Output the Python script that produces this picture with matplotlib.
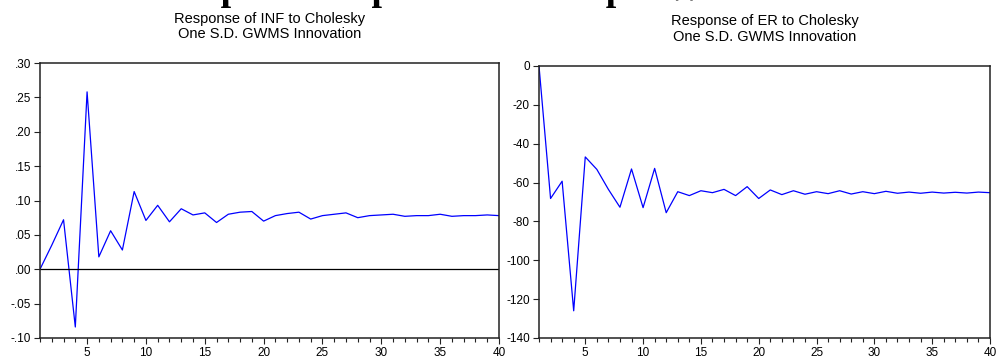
import numpy as np
import matplotlib.pyplot as plt
from matplotlib.ticker import FuncFormatter, MultipleLocator

# periode 1..40
periode = np.arange(1, 41)

# respon INF terhadap guncangan GWMS
inf = [0.000, 0.035, 0.072, -0.084, 0.258, 0.018, 0.056, 0.028, 0.113, 0.071,
       0.093, 0.069, 0.088, 0.079, 0.082, 0.068, 0.080, 0.083, 0.084, 0.070,
       0.078, 0.081, 0.083, 0.073, 0.078, 0.080, 0.082, 0.075, 0.078, 0.079,
       0.080, 0.077, 0.078, 0.078, 0.080, 0.077, 0.078, 0.078, 0.079, 0.078]

# respon ER terhadap guncangan GWMS
er = [0.0, -68.2, -59.3, -126.0, -46.8, -53.2, -63.5, -72.7, -53.0, -72.9,
      -52.7, -75.5, -64.7, -66.7, -64.2, -65.2, -63.5, -66.7, -62.1, -68.2,
      -63.8, -66.2, -64.2, -66.0, -64.7, -65.7, -64.2, -65.9, -64.7, -65.7,
      -64.5, -65.5, -64.9, -65.5, -64.9, -65.4, -65.0, -65.4, -64.9, -65.2]

judul_inf = 'Response of INF to Cholesky\nOne S.D. GWMS Innovation'
judul_er = 'Response of ER to Cholesky\nOne S.D. GWMS Innovation'

font_sans = ['Liberation Sans', 'DejaVu Sans']

fig = plt.figure(figsize=(9.97, 3.59), dpi=100)

# judul besar yang terpotong di atas (seperti pada gambar asli)
fig.text(0.50, 1.0005, 'Grafik Impulse Response Terhadap GWMS dan Inflasi',
         ha='center', va='baseline', fontsize=27, fontweight='bold',
         family='Liberation Serif')

ax1 = fig.add_axes([40/997, 1 - 338/359, 459/997, 275/359])
ax2 = fig.add_axes([539/997, 1 - 338/359, 451/997, 272/359])


def gaya(ax):
    for s in ax.spines.values():
        s.set_linewidth(1.1)
        s.set_color('#222222')
    ax.set_xlim(1, 40)
    ax.xaxis.set_major_locator(MultipleLocator(5))
    ax.xaxis.set_minor_locator(MultipleLocator(1))
    ax.tick_params(which='both', direction='out', top=False, right=False,
                   labelsize=8.5, width=0.8, color='#222222', pad=2.5)
    ax.tick_params(which='major', length=4)
    ax.tick_params(which='minor', length=3)
    for lb in ax.get_xticklabels() + ax.get_yticklabels():
        lb.set_family(font_sans)


# panel kiri: INF
ax1.plot(periode, inf, color='blue', lw=0.9)
ax1.axhline(0, color='black', lw=0.9)
ax1.set_ylim(-0.10, 0.30)
ax1.yaxis.set_major_locator(MultipleLocator(0.05))
ax1.yaxis.set_major_formatter(FuncFormatter(
    lambda v, p: ('%.2f' % v).replace('0.', '.') if abs(v) > 1e-9 else '.00'))
gaya(ax1)
ax1.set_title(judul_inf, fontsize=10.5, family=font_sans, pad=18, linespacing=1.1)

# panel kanan: ER
ax2.plot(periode, er, color='blue', lw=0.9)
ax2.set_ylim(-140, 0)
ax2.yaxis.set_major_locator(MultipleLocator(20))
ax2.yaxis.set_major_formatter(FuncFormatter(lambda v, p: '%d' % v))
gaya(ax2)
ax2.set_title(judul_er, fontsize=10.5, family=font_sans, pad=18, linespacing=1.15)

fig.savefig('out.png', dpi=100)
